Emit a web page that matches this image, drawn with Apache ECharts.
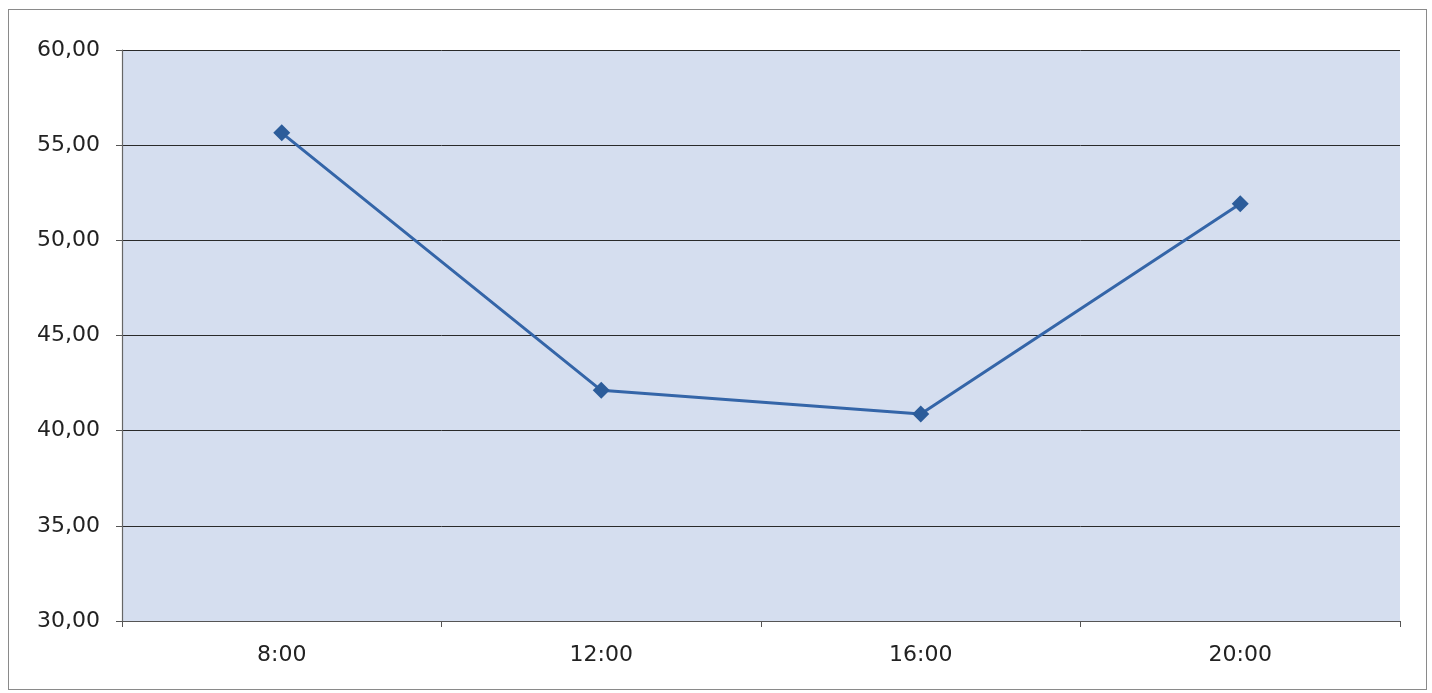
<!DOCTYPE html>
<html>
<head>
<meta charset="utf-8">
<script src="https://cdn.jsdelivr.net/npm/echarts@6/dist/echarts.min.js"></script>
<style>
  html, body { margin: 0; padding: 0; background: #fff; }
  #frame { position: absolute; left: 8px; top: 9px; width: 1419px; height: 681px; border: 1px solid #8a8a8a; box-sizing: border-box; }
  #chart { position: absolute; left: 0; top: 0; width: 1432px; height: 693px; }
</style>
</head>
<body>
<div id="frame"></div>
<div id="chart"></div>
<script>
// Hourly readings
const hours = ['8:00', '12:00', '16:00', '20:00'];
const readings = [55.65, 42.12, 40.88, 51.92];
const yTicks = { min: 30, max: 60, step: 5 };

const chart = echarts.init(document.getElementById('chart'), null, { renderer: 'canvas' });
const fontFamily = '"DejaVu Sans", "Liberation Sans", Arial, sans-serif';

chart.setOption({
  animation: false,
  grid: { left: 122, right: 32, top: 50, bottom: 72, show: true, backgroundColor: '#d5deef', borderWidth: 0 },
  xAxis: {
    type: 'category',
    data: hours,
    boundaryGap: true,
    axisLine: { lineStyle: { color: '#555', width: 1.2 } },
    axisTick: { show: true, inside: false, length: 6, lineStyle: { color: '#555' } },
    axisLabel: { color: '#222', fontSize: 22, fontFamily, margin: 23 }
  },
  yAxis: {
    type: 'value',
    min: yTicks.min,
    max: yTicks.max,
    interval: yTicks.step,
    axisLine: { show: true, lineStyle: { color: '#666', width: 1.2 } },
    axisTick: { show: true, inside: false, length: 6, lineStyle: { color: '#555' } },
    axisLabel: {
      color: '#222', fontSize: 22, fontFamily, margin: 22,
      formatter: v => v.toFixed(2).replace('.', ',')
    },
    splitLine: { show: true, lineStyle: { color: '#2a2a2a', width: 1 } }
  },
  series: [{
    type: 'line',
    data: readings,
    symbol: 'diamond',
    symbolSize: 17,
    lineStyle: { color: '#3465a8', width: 3 },
    itemStyle: { color: '#2c5c9a' }
  }]
});
</script>
</body>
</html>
